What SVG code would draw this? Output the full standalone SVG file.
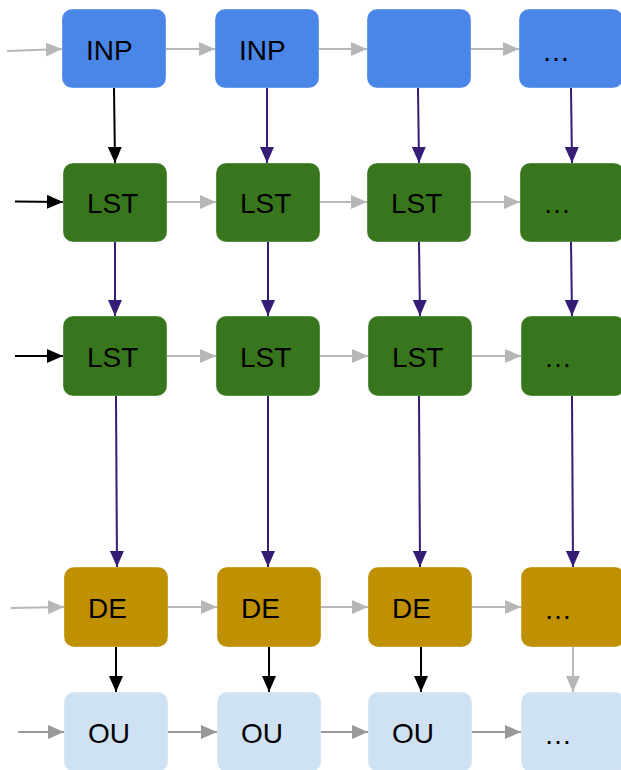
<svg xmlns="http://www.w3.org/2000/svg" width="621" height="770" viewBox="0 0 621 770">
<style>
.box{stroke:#ffffff;stroke-opacity:0.35;stroke-width:1}
.inp{fill:#4a86e8}
.lst{fill:#38761d}
.de{fill:#bf9000}
.ou{fill:#cfe2f3}
.t{font-family:"Liberation Sans",Arial,sans-serif;font-size:28px;fill:#000000}
.c{fill:none;stroke-width:2}
.gray{stroke:#b7b7b7}
.dgray{stroke:#999999}
.black{stroke:#000000}
.purple{stroke:#351c75}
</style>
<defs>
<marker id="aGray" markerUnits="userSpaceOnUse" viewBox="0 0 16 14" markerWidth="16" markerHeight="14" refX="16" refY="7" orient="auto"><path d="M0,0 L16,7 L0,14 z" fill="#b7b7b7"/></marker>
<marker id="aDGray" markerUnits="userSpaceOnUse" viewBox="0 0 16 14" markerWidth="16" markerHeight="14" refX="16" refY="7" orient="auto"><path d="M0,0 L16,7 L0,14 z" fill="#999999"/></marker>
<marker id="aBlack" markerUnits="userSpaceOnUse" viewBox="0 0 16 14" markerWidth="16" markerHeight="14" refX="16" refY="7" orient="auto"><path d="M0,0 L16,7 L0,14 z" fill="#000000"/></marker>
<marker id="aPurple" markerUnits="userSpaceOnUse" viewBox="0 0 16 14" markerWidth="16" markerHeight="14" refX="16" refY="7" orient="auto"><path d="M0,0 L16,7 L0,14 z" fill="#351c75"/></marker>
</defs>
<rect width="621" height="770" fill="#ffffff"/>

<g id="nodes">
<g id="inp1"><rect class="box inp" x="62" y="9" width="104" height="79" rx="10"/><text class="t" x="86" y="60">INP</text></g>
<g id="inp2"><rect class="box inp" x="215" y="9" width="104" height="79" rx="10"/><text class="t" x="239" y="60">INP</text></g>
<g id="inp3"><rect class="box inp" x="367" y="9" width="104" height="79" rx="10"/></g>
<g id="inp4"><rect class="box inp" x="519" y="9" width="104" height="79" rx="10"/><text class="t" x="542" y="61">…</text></g>

<g id="lstA1"><rect class="box lst" x="63" y="163" width="104" height="79" rx="10"/><text class="t" x="87" y="213">LST</text></g>
<g id="lstA2"><rect class="box lst" x="216" y="163" width="104" height="79" rx="10"/><text class="t" x="240" y="213">LST</text></g>
<g id="lstA3"><rect class="box lst" x="367" y="163" width="104" height="79" rx="10"/><text class="t" x="391" y="213">LST</text></g>
<g id="lstA4"><rect class="box lst" x="520" y="163" width="104" height="79" rx="10"/><text class="t" x="543" y="213">…</text></g>

<g id="lstB1"><rect class="box lst" x="63" y="316" width="104" height="80" rx="10"/><text class="t" x="87" y="367">LST</text></g>
<g id="lstB2"><rect class="box lst" x="216" y="316" width="104" height="80" rx="10"/><text class="t" x="240" y="367">LST</text></g>
<g id="lstB3"><rect class="box lst" x="368" y="316" width="104" height="80" rx="10"/><text class="t" x="392" y="367">LST</text></g>
<g id="lstB4"><rect class="box lst" x="521" y="316" width="104" height="80" rx="10"/><text class="t" x="544" y="367">…</text></g>

<g id="de1"><rect class="box de" x="64" y="567" width="104" height="80" rx="10"/><text class="t" x="88" y="618">DE</text></g>
<g id="de2"><rect class="box de" x="217" y="567" width="104" height="80" rx="10"/><text class="t" x="241" y="618">DE</text></g>
<g id="de3"><rect class="box de" x="368" y="567" width="104" height="80" rx="10"/><text class="t" x="392" y="618">DE</text></g>
<g id="de4"><rect class="box de" x="521" y="567" width="104" height="80" rx="10"/><text class="t" x="544" y="619">…</text></g>

<g id="ou1"><rect class="box ou" x="64" y="692" width="104" height="80" rx="10"/><text class="t" x="88" y="743">OU</text></g>
<g id="ou2"><rect class="box ou" x="217" y="692" width="104" height="80" rx="10"/><text class="t" x="241" y="743">OU</text></g>
<g id="ou3"><rect class="box ou" x="368" y="692" width="104" height="80" rx="10"/><text class="t" x="392" y="743">OU</text></g>
<g id="ou4"><rect class="box ou" x="521" y="692" width="104" height="80" rx="10"/><text class="t" x="544" y="744">…</text></g>
</g>

<g id="connectors">
<!-- incoming -->
<path class="c gray" d="M7,51 L62,49" marker-end="url(#aGray)"/>
<path class="c black" d="M15,201.5 L63,202" marker-end="url(#aBlack)"/>
<path class="c black" d="M15,356 L63,356" marker-end="url(#aBlack)"/>
<path class="c gray" d="M11,608 L64,607" marker-end="url(#aGray)"/>
<path class="c dgray" d="M18,732 L64,732" marker-end="url(#aDGray)"/>
<!-- row 1 -->
<path class="c gray" d="M166,49 L215,49" marker-end="url(#aGray)"/>
<path class="c gray" d="M319,49 L367,49" marker-end="url(#aGray)"/>
<path class="c gray" d="M471,49 L519,49" marker-end="url(#aGray)"/>
<!-- row 2 -->
<path class="c gray" d="M167,202 L216,202" marker-end="url(#aGray)"/>
<path class="c gray" d="M320,202 L367,202" marker-end="url(#aGray)"/>
<path class="c gray" d="M471,202 L520,202" marker-end="url(#aGray)"/>
<!-- row 3 -->
<path class="c gray" d="M167,356 L216,356" marker-end="url(#aGray)"/>
<path class="c gray" d="M320,356 L368,356" marker-end="url(#aGray)"/>
<path class="c gray" d="M472,356 L521,356" marker-end="url(#aGray)"/>
<!-- row 4 -->
<path class="c gray" d="M168,607 L217,607" marker-end="url(#aGray)"/>
<path class="c gray" d="M321,607 L368,607" marker-end="url(#aGray)"/>
<path class="c gray" d="M472,607 L521,607" marker-end="url(#aGray)"/>
<!-- row 5 -->
<path class="c dgray" d="M168,732 L217,732" marker-end="url(#aDGray)"/>
<path class="c dgray" d="M321,732 L368,732" marker-end="url(#aDGray)"/>
<path class="c dgray" d="M472,732 L521,732" marker-end="url(#aDGray)"/>
<!-- INP -> LST -->
<path class="c black" d="M114,88 L115,163" marker-end="url(#aBlack)"/>
<path class="c purple" d="M267,88 L267,163" marker-end="url(#aPurple)"/>
<path class="c purple" d="M418,88 L419,163" marker-end="url(#aPurple)"/>
<path class="c purple" d="M571,88 L572,163" marker-end="url(#aPurple)"/>
<!-- LST -> LST -->
<path class="c purple" d="M115,242 L115,316" marker-end="url(#aPurple)"/>
<path class="c purple" d="M268,242 L268,316" marker-end="url(#aPurple)"/>
<path class="c purple" d="M419,242 L420,316" marker-end="url(#aPurple)"/>
<path class="c purple" d="M571,242 L572,316" marker-end="url(#aPurple)"/>
<!-- LST -> DE -->
<path class="c purple" d="M116,396 L117,567" marker-end="url(#aPurple)"/>
<path class="c purple" d="M268,396 L268,567" marker-end="url(#aPurple)"/>
<path class="c purple" d="M419,396 L420,567" marker-end="url(#aPurple)"/>
<path class="c purple" d="M572,396 L573,567" marker-end="url(#aPurple)"/>
<!-- DE -> OU -->
<path class="c black" d="M116,647 L116,692" marker-end="url(#aBlack)"/>
<path class="c black" d="M269,647 L269,692" marker-end="url(#aBlack)"/>
<path class="c black" d="M421,647 L421,692" marker-end="url(#aBlack)"/>
<path class="c gray" d="M573,647 L573,692" marker-end="url(#aGray)"/>
</g>
</svg>
